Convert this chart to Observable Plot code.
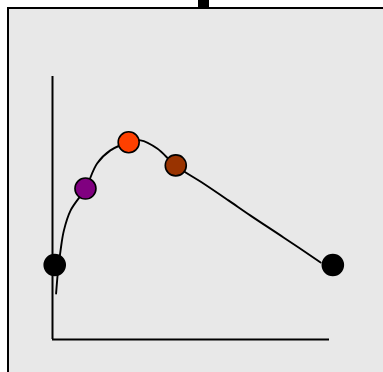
<!DOCTYPE html>
<html>
<head>
<meta charset="utf-8">
<script src="https://cdn.jsdelivr.net/npm/d3@7"></script>
<script src="https://cdn.jsdelivr.net/npm/@observablehq/plot@0.6"></script>
<style>
  html, body { margin: 0; padding: 0; background: #ffffff; }
  #wrap { position: relative; width: 383px; height: 372px; overflow: hidden; }
  #panel { position: absolute; left: 7px; top: 7px; width: 420px; height: 420px;
           background: #e8e8e8; border-left: 2px solid #000; border-top: 2px solid #000; box-sizing: border-box; }
  #tab { position: absolute; left: 198px; top: 0; width: 11px; height: 8px; background: #000; }
  #chart { position: absolute; left: 0; top: 0; }
</style>
</head>
<body>
<div id="wrap">
  <div id="panel"></div>
  <div id="tab"></div>
  <div id="chart"></div>
</div>
<script>
// Curve
const curveX = [1.3, 2.0, 2.9, 4.1, 6.5, 11.9, 16.1, 20.9, 27.4, 31.8, 37.8, 44.4, 54.5, 63.5, 71.5, 83.4, 96.8];
const curveY = [17.5, 26.2, 33.8, 41.4, 49.0, 57.4, 66.9, 71.9, 74.9, 75.7, 72.6, 66.2, 59.3, 52.9, 47.1, 38.8, 29.3];

// Highlighted points
const pointX = [0.8, 11.9, 27.5, 44.5, 101.2];
const pointY = [28.3, 57.4, 75.0, 66.2, 28.3];
const pointColor = ["#000000", "#800080", "#ff4000", "#993300", "#000000"];

const curve = curveX.map((x, i) => ({x, y: curveY[i]}));
const points = pointX.map((x, i) => ({x, y: pointY[i], c: pointColor[i]}));

const chart = Plot.plot({
  width: 383,
  height: 372,
  marginLeft: 52,
  marginRight: 54,
  marginTop: 76,
  marginBottom: 33,
  style: {background: "transparent", overflow: "visible"},
  x: {domain: [0, 100], axis: null},
  y: {domain: [0, 100], axis: null},
  marks: [
    Plot.ruleX([0], {y1: 0, y2: 100, stroke: "#000", strokeWidth: 2}),
    Plot.ruleY([0], {x1: 0, x2: 100, stroke: "#000", strokeWidth: 2}),
    Plot.line(curve, {x: "x", y: "y", curve: "catmull-rom", stroke: "#000", strokeWidth: 1.9}),
    Plot.dot(points, {x: "x", y: "y", r: 10.5, fill: d => d.c, stroke: "#000", strokeWidth: 1.6})
  ]
});
document.getElementById("chart").appendChild(chart);
</script>
</body>
</html>
